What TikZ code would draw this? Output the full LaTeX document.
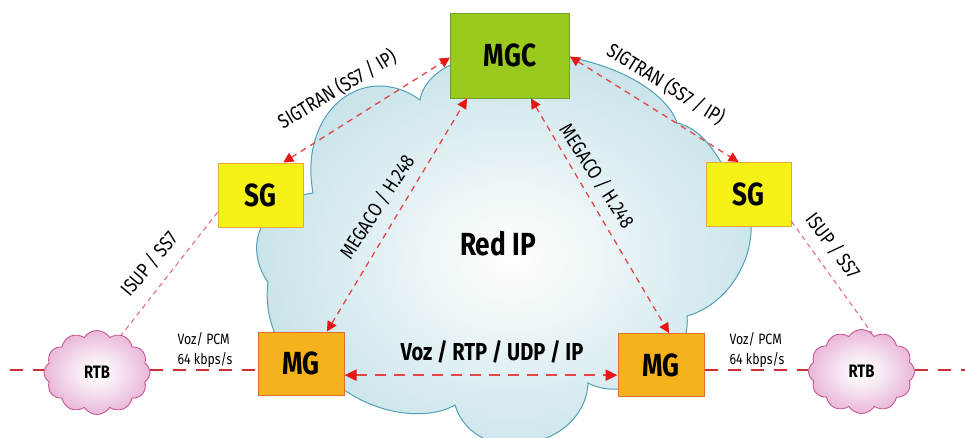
\documentclass[tikz,border=0pt]{standalone}
\usepackage{fontspec}
\setmainfont{Fira Sans}[FakeStretch=0.82]
\usetikzlibrary{arrows.meta,shapes.symbols}
\definecolor{cloudblue}{RGB}{170,212,222}
\definecolor{cloudline}{RGB}{80,160,185}
\definecolor{mgcgreen}{RGB}{155,202,30}
\definecolor{mgcborder}{RGB}{105,160,45}
\definecolor{sgyellow}{RGB}{246,242,24}
\definecolor{sgborder}{RGB}{228,170,60}
\definecolor{mgorange}{RGB}{245,178,28}
\definecolor{mgborder}{RGB}{226,110,45}
\definecolor{rtbpink}{RGB}{228,168,208}
\definecolor{rtbline}{RGB}{200,85,150}
\definecolor{arrowred}{RGB}{228,70,70}
\definecolor{headred}{RGB}{232,22,22}
\definecolor{isupred}{RGB}{226,100,120}
\definecolor{pstnred}{RGB}{205,45,55}
\pgfdeclareradialshading{cloudshade}{\pgfpoint{0bp}{0bp}}{color(0bp)=(white); color(6bp)=(white!85!cloudblue); color(38bp)=(cloudblue); color(50bp)=(cloudblue)}
\pgfdeclareradialshading{rtbshade}{\pgfpoint{0bp}{0bp}}{color(0bp)=(white); color(8bp)=(white!80!rtbpink); color(30bp)=(rtbpink); color(50bp)=(rtbpink)}
\tikzset{
  boxsty/.style={draw, line width=1pt, inner sep=0pt, font=\fontsize{32}{36}\selectfont\bfseries},
  mgcbox/.style={boxsty, fill=mgcgreen, draw=mgcborder, minimum width=119pt, minimum height=85pt},
  sgbox/.style={boxsty, fill=sgyellow, draw=sgborder, minimum width=85pt, minimum height=64pt},
  mgbox/.style={boxsty, fill=mgorange, draw=mgborder, minimum width=86pt, minimum height=63pt},
  rtbcloud/.style={cloud, cloud puffs=12, cloud puff arc=115, aspect=1.3, draw=rtbline, line width=0.9pt,
    shading=rtbshade, inner sep=0pt, minimum width=106pt, minimum height=84pt,
    font=\fontsize{18}{20}\selectfont\bfseries},
  sigline/.style={draw=arrowred, line width=1.3pt, dash pattern=on 6pt off 5pt,
    {Triangle[length=10pt,width=10pt,color=headred]}-{Triangle[length=10pt,width=10pt,color=headred]}},
  rtpline/.style={draw=arrowred, line width=2.2pt, dash pattern=on 11pt off 8pt,
    {Triangle[length=12pt,width=11pt,color=headred]}-{Triangle[length=12pt,width=11pt,color=headred]}},
  isupline/.style={draw=isupred, line width=1pt, dash pattern=on 5pt off 4pt},
  pstnline/.style={draw=pstnred, line width=2.4pt, dash pattern=on 13pt off 10pt},
  lbl/.style={inner sep=0pt, font=\fontsize{20}{22}\selectfont},
  smalllbl/.style={inner sep=0pt, align=left, font=\fontsize{15}{19.5}\selectfont},
}
\begin{document}
\begin{tikzpicture}[x=1pt,y=1pt]
\useasboundingbox (0,0) rectangle (965,-437);
% IP cloud
\path[draw=cloudline, line width=1pt, shading=cloudshade]
  (313,-193) .. controls (298,-110) and (365,-60) .. (420,-100)
  .. controls (424,-75) and (455,-55) .. (500,-55)
  .. controls (585,-45) and (665,-85) .. (677,-123)
  .. controls (700,-128) and (715,-150) .. (728,-175)
  .. controls (775,-215) and (745,-300) .. (687,-316)
  .. controls (692,-365) and (630,-405) .. (588,-383)
  .. controls (585,-450) and (475,-470) .. (455,-405)
  .. controls (430,-420) and (370,-420) .. (320,-370)
  .. controls (290,-370) and (262,-330) .. (268,-282)
  .. controls (255,-265) and (250,-235) .. (270,-215)
  .. controls (280,-200) and (300,-195) .. (313,-193) -- cycle;
\node[font=\fontsize{32}{36}\selectfont\bfseries, inner sep=0pt] (redip) at (498,-244) {Red IP};

% nodes
\node[mgcbox] (mgc) at (510,-55.5) {MGC};
\node[sgbox] (sgL) at (260.5,-195) {SG};
\node[sgbox] (sgR) at (748.5,-194.5) {SG};
\node[mgbox] (mgL) at (301,-363.5) {MG};
\node[mgbox] (mgR) at (661,-365) {MG};
\node[rtbcloud] (rtbL) at (97,-372.5) {RTB};
\node[rtbcloud] (rtbR) at (861.5,-371.5) {RTB};

% PSTN horizontal line
\coordinate (hl) at (10,-370);
\coordinate (hr) at (965,-370);
\draw[pstnline] (hl) -- (hl -| rtbL.west);
\draw[pstnline] (hl -| rtbL.east) -- (hl -| mgL.west);
\draw[pstnline] (hl -| mgR.east) -- (hl -| rtbR.west);
\draw[pstnline] (hl -| rtbR.east) -- (hr);

% ISUP lines
\draw[isupline] (sgL.202) -- (rtbL.57);
\draw[isupline] (sgR.-32) -- (rtbR.75);

% signalling arrows
\draw[sigline] (sgL.55) -- (mgc.182);
\draw[sigline] (mgc.-1) -- (sgR.107);
\draw[sigline] (mgL.51) -- (mgc.225);
\draw[sigline] (mgc.296) -- (mgR.76);
\draw[rtpline] (mgL.-15) -- (mgL.-15 -| mgR.west);

% labels
\node[lbl, rotate=31] (sigL) at (337,-89) {SIGTRAN (SS7 / IP)};
\node[lbl, rotate=-32] (sigR) at (666,-84) {SIGTRAN (SS7 / IP)};
\node[lbl, rotate=57] (megL) at (377,-207) {MEGACO / H.248};
\node[lbl, rotate=-57] (megR) at (597,-176) {MEGACO / H.248};
\node[lbl, rotate=50] (isupL) at (149,-264) {ISUP / SS7};
\node[lbl, rotate=-53] (isupR) at (833,-246) {ISUP / SS7};
\node[smalllbl] (pcmL) at (205,-350) {Voz/ PCM\\64 kbps/s};
\node[smalllbl] (pcmR) at (757,-350) {Voz/ PCM\\64 kbps/s};
\node[inner sep=0pt, font=\fontsize{24.5}{27}\selectfont\bfseries] (rtp) at (492,-352) {Voz / RTP / UDP / IP};
\end{tikzpicture}
\end{document}
